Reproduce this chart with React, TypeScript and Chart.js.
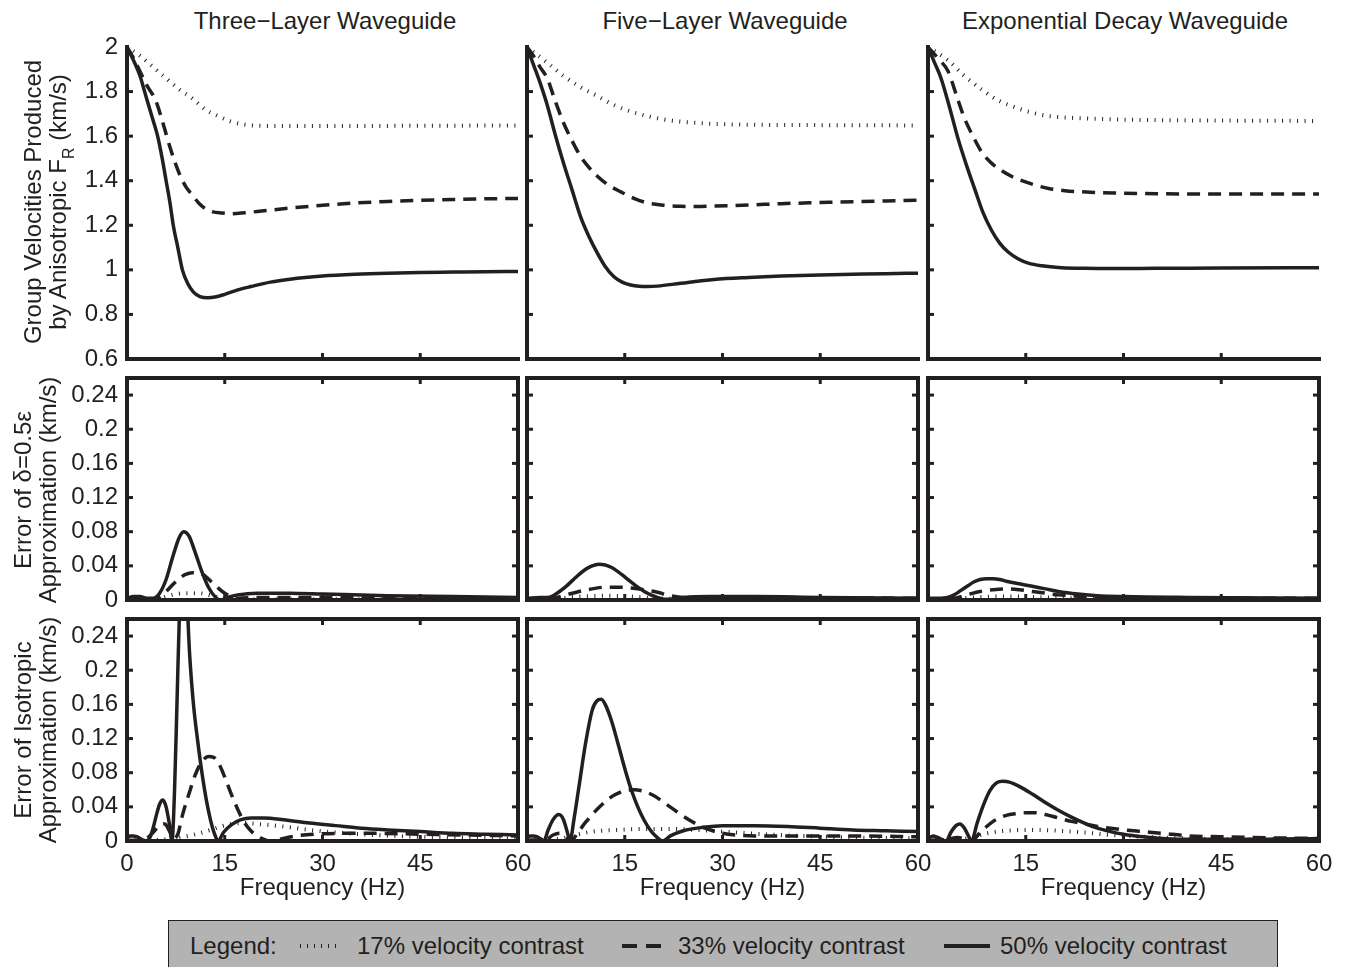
import React, { useEffect, useRef } from 'react';
import { Chart, registerables } from 'chart.js';

Chart.register(...registerables);

type Pt = [number, number];

// ---------- text ----------
const columnTitles = ['Three\u2212Layer Waveguide', 'Five\u2212Layer Waveguide', 'Exponential Decay Waveguide'];
const xAxisTitle = 'Frequency (Hz)';
const legendLabels = ['17% velocity contrast', '33% velocity contrast', '50% velocity contrast'];

// ---------- axes ----------
const freqMin = 0;
const freqMax = 60;
const freqStep = 15;
const groupMin = 0.6;
const groupMax = 2;
const groupStep = 0.2;
const errMin = 0;
const errMax = 0.26;
const errStep = 0.04;

// ---------- row 1: group velocities (km/s) ----------
const threeGroup50: Pt[] = [[0,2],[1,1.94],[2,1.87],[2.7,1.8],[3.7,1.7],[4.7,1.6],[5.4,1.5],[6.0,1.4],[6.6,1.3],[7.1,1.2],[7.8,1.1],[8.5,1.0],[9.3,0.94],[10.2,0.9],[11.2,0.88],[12.4,0.875],[13.5,0.878],[15,0.89],[17,0.91],[19,0.925],[22,0.945],[25,0.958],[30,0.972],[35,0.98],[40,0.985],[45,0.988],[50,0.99],[55,0.992],[60,0.993]];
const threeGroup33: Pt[] = [[0,2],[1,1.95],[2,1.89],[3,1.83],[4.4,1.76],[5.5,1.66],[6.6,1.55],[7.4,1.48],[8.2,1.42],[9.1,1.37],[9.9,1.34],[11,1.3],[12,1.275],[13.2,1.26],[14.5,1.255],[16,1.252],[18,1.256],[21,1.265],[25,1.277],[30,1.29],[35,1.3],[40,1.307],[45,1.312],[50,1.316],[55,1.319],[60,1.32]];
const threeGroup17: Pt[] = [[0,2],[2,1.96],[4,1.91],[6,1.86],[8,1.81],[10,1.77],[12,1.72],[14,1.69],[16,1.665],[18,1.652],[20,1.647],[25,1.645],[30,1.645],[40,1.646],[50,1.647],[60,1.648]];

const fiveGroup50: Pt[] = [[0,2],[1,1.92],[2,1.84],[3.1,1.74],[4.3,1.61],[5.6,1.48],[6.9,1.36],[8.2,1.24],[9.5,1.15],[10.8,1.075],[12,1.015],[13.3,0.97],[14.6,0.945],[15.9,0.932],[17.2,0.926],[18.5,0.925],[20,0.927],[23.6,0.94],[28.7,0.957],[34,0.966],[39,0.972],[45,0.977],[50,0.98],[55,0.983],[60,0.985]];
const fiveGroup33: Pt[] = [[0,2],[1,1.96],[2,1.91],[3.1,1.86],[4.3,1.76],[5.6,1.66],[6.9,1.58],[8.2,1.51],[9.5,1.46],[10.8,1.42],[12.5,1.38],[14.4,1.35],[16.5,1.32],[18.5,1.3],[21,1.29],[23.6,1.285],[26,1.284],[28.7,1.286],[34,1.291],[39,1.297],[45,1.302],[50,1.306],[55,1.309],[60,1.312]];
const fiveGroup17: Pt[] = [[0,2],[3.1,1.93],[5.6,1.87],[8.2,1.82],[10.8,1.78],[13.3,1.74],[16,1.71],[18.5,1.69],[21,1.675],[23.6,1.665],[28.7,1.655],[35,1.651],[40,1.65],[50,1.649],[60,1.648]];

const expGroup50: Pt[] = [[0,2],[1,1.93],[2,1.86],[3.3,1.73],[4.6,1.59],[5.9,1.47],[7.2,1.36],[8.4,1.26],[9.7,1.18],[11,1.12],[12.3,1.08],[13.8,1.05],[15.4,1.03],[17.5,1.018],[20.5,1.01],[24,1.007],[28.7,1.006],[35,1.007],[45,1.008],[60,1.01]];
const expGroup33: Pt[] = [[0,2],[1.5,1.95],[3.1,1.89],[4.4,1.78],[5.6,1.68],[6.9,1.6],[8.2,1.53],[9.7,1.48],[11.3,1.445],[12.8,1.42],[14.4,1.4],[16.5,1.38],[18.5,1.365],[21,1.355],[23.6,1.35],[28.7,1.345],[35,1.342],[45,1.34],[60,1.34]];
const expGroup17: Pt[] = [[0,2],[3.1,1.94],[5.6,1.87],[8.2,1.81],[10.8,1.76],[13.3,1.73],[16,1.705],[18.5,1.69],[21,1.684],[23.6,1.68],[28.7,1.675],[35,1.672],[45,1.67],[60,1.668]];

// ---------- row 2: error of delta = 0.5 epsilon approximation (km/s) ----------
const threeDelta50: Pt[] = [[0,0.002],[1,0.004],[2,0.004],[3,0.002],[4,0.002],[5,0.008],[6,0.024],[7,0.05],[8,0.073],[8.7,0.08],[9.5,0.075],[10.5,0.055],[11.5,0.033],[12.5,0.015],[13.5,0.004],[14.3,0.0],[15.5,0.003],[17,0.006],[20,0.008],[25,0.008],[30,0.007],[40,0.005],[50,0.004],[60,0.003]];
const threeDelta33: Pt[] = [[0,0.001],[4,0.001],[5,0.004],[6,0.01],[7,0.018],[8,0.025],[9,0.03],[10,0.032],[11,0.032],[12,0.028],[13,0.021],[14,0.014],[15,0.008],[16,0.004],[17,0.002],[20,0.003],[30,0.003],[40,0.002],[60,0.002]];
const threeDelta17: Pt[] = [[0,0.0005],[5,0.002],[7,0.006],[9,0.008],[11,0.008],[13,0.005],[15,0.002],[20,0.001],[60,0.001]];

const fiveDelta50: Pt[] = [[0,0.002],[2,0.003],[3,0.003],[4,0.005],[5,0.01],[6,0.016],[7,0.023],[8,0.03],[9,0.036],[10,0.04],[11,0.042],[12,0.041],[13,0.038],[14,0.033],[15,0.027],[16,0.021],[17,0.015],[18,0.01],[19,0.006],[20,0.003],[21,0.001],[22,0.001],[24,0.003],[28,0.004],[35,0.004],[45,0.003],[60,0.002]];
const fiveDelta33: Pt[] = [[0,0.001],[4,0.002],[6,0.006],[8,0.01],[10,0.013],[12,0.015],[14,0.015],[16,0.014],[18,0.012],[20,0.009],[22,0.005],[24,0.003],[30,0.003],[60,0.002]];
const fiveDelta17: Pt[] = [[0,0.001],[5,0.002],[8,0.004],[12,0.005],[16,0.004],[20,0.002],[25,0.001],[60,0.001]];

const expDelta50: Pt[] = [[0,0.002],[2,0.002],[3,0.003],[4,0.006],[5,0.011],[6,0.016],[7,0.021],[8,0.024],[9,0.025],[10,0.025],[11,0.024],[12,0.022],[14,0.019],[16,0.016],[18,0.013],[20,0.01],[23,0.007],[26,0.005],[30,0.004],[40,0.003],[60,0.002]];
const expDelta33: Pt[] = [[0,0.001],[4,0.002],[6,0.006],[8,0.01],[10,0.012],[12,0.013],[14,0.012],[16,0.01],[18,0.008],[20,0.006],[24,0.004],[30,0.003],[60,0.002]];
const expDelta17: Pt[] = [[0,0.001],[5,0.002],[7,0.003],[10,0.004],[14,0.004],[18,0.003],[24,0.002],[60,0.001]];

// ---------- row 3: error of isotropic approximation (km/s) ----------
const threeIso50: Pt[] = [[0,0.004],[0.5,0.006],[1,0.006],[1.5,0.005],[2,0.003],[2.5,0.001],[3,0.0],[3.5,0.004],[4,0.015],[4.5,0.03],[5,0.043],[5.5,0.048],[6,0.04],[6.5,0.02],[6.9,0.0],[7.3,0.06],[7.7,0.17],[8.1,0.28],[8.6,0.34],[9.1,0.3],[9.6,0.22],[10.2,0.16],[10.8,0.12],[11.5,0.08],[12.2,0.047],[12.8,0.025],[13.4,0.009],[14,0.0],[14.8,0.01],[16,0.019],[17.5,0.025],[19,0.027],[21,0.027],[24,0.025],[28,0.021],[32,0.018],[36,0.015],[40,0.013],[45,0.011],[50,0.009],[55,0.008],[60,0.007]];
const threeIso33: Pt[] = [[0,0.001],[2,0.001],[3,0.003],[4,0.01],[5,0.018],[5.8,0.02],[6.5,0.012],[7.2,0.003],[7.8,0.008],[8.5,0.03],[9.5,0.055],[10.5,0.078],[11.5,0.093],[12.5,0.099],[13.3,0.098],[14,0.092],[15,0.075],[16,0.055],[17,0.037],[18,0.022],[19,0.012],[20,0.006],[21,0.002],[22,0.0],[23,0.001],[24,0.003],[26,0.006],[29,0.008],[33,0.009],[38,0.009],[45,0.008],[52,0.007],[60,0.006]];
const threeIso17: Pt[] = [[0,0.0005],[4,0.001],[6,0.002],[8,0.004],[10,0.007],[12,0.011],[14,0.016],[16,0.02],[18,0.021],[20,0.02],[24,0.017],[28,0.013],[32,0.01],[38,0.007],[45,0.005],[52,0.004],[60,0.003]];

const fiveIso50: Pt[] = [[0,0.004],[0.5,0.006],[1,0.006],[1.5,0.005],[2,0.003],[2.6,0.0],[3.2,0.012],[4,0.025],[4.9,0.031],[5.6,0.025],[6.2,0.01],[6.6,0.0],[7.2,0.025],[8,0.065],[9,0.115],[10,0.153],[10.7,0.164],[11.4,0.166],[12,0.16],[13,0.14],[14,0.113],[15,0.085],[16,0.06],[17,0.04],[18,0.024],[19,0.012],[20,0.004],[20.8,0.0],[22,0.006],[24,0.012],[27,0.016],[30,0.018],[35,0.018],[40,0.017],[45,0.015],[50,0.013],[55,0.012],[60,0.011]];
const fiveIso33: Pt[] = [[0,0.001],[3,0.002],[4,0.007],[5,0.009],[6,0.005],[6.8,0.001],[8,0.012],[9,0.022],[10,0.031],[11,0.039],[12,0.046],[13,0.052],[14,0.056],[15,0.059],[16.5,0.06],[18,0.058],[19.5,0.053],[21,0.045],[22.5,0.037],[24,0.029],[25.5,0.022],[27,0.016],[28.5,0.012],[30,0.009],[32,0.007],[35,0.006],[40,0.006],[45,0.006],[50,0.006],[60,0.005]];
const fiveIso17: Pt[] = [[0,0.001],[4,0.002],[6,0.004],[8,0.008],[10,0.011],[14,0.013],[18,0.014],[22,0.014],[26,0.013],[30,0.011],[36,0.008],[42,0.006],[50,0.004],[60,0.003]];

const expIso50: Pt[] = [[0,0.003],[0.8,0.006],[1.8,0.003],[2.8,0.0],[3.5,0.01],[4.3,0.018],[4.9,0.02],[5.6,0.015],[6.2,0.006],[6.7,0.0],[7.5,0.02],[8.5,0.042],[9.5,0.059],[10.5,0.068],[11.5,0.07],[12.5,0.069],[14,0.064],[16,0.055],[18,0.045],[20,0.036],[22,0.028],[24,0.021],[26,0.015],[28,0.011],[30,0.008],[33,0.005],[36,0.003],[40,0.002],[50,0.002],[60,0.003]];
const expIso33: Pt[] = [[0,0.001],[3,0.002],[4.5,0.004],[6,0.002],[6.8,0.001],[8,0.01],[9,0.017],[10,0.023],[11,0.027],[12,0.03],[13.5,0.032],[15,0.033],[16.5,0.033],[18,0.031],[20,0.027],[22,0.023],[24,0.02],[26,0.017],[28,0.015],[30,0.013],[33,0.011],[36,0.009],[40,0.006],[45,0.005],[50,0.004],[60,0.003]];
const expIso17: Pt[] = [[0,0.001],[5,0.002],[7,0.005],[9,0.009],[12,0.012],[16,0.013],[20,0.012],[24,0.01],[28,0.007],[33,0.005],[40,0.003],[50,0.002],[60,0.002]];

// ---------- styling / layout ----------
const INK = '#231f20';
const FONT = "'Liberation Sans', Arial, Helvetica, sans-serif";
const PLOT_LEFT = [127, 527, 928];
const PLOT_W = 391;
const ROW_TOP = [47, 378, 619];
const ROW_H = [312, 222, 222];
const PAD_L = 75;
const PAD_R = 25;
const PAD_T = 25;

type LineStyle = { w: number; dash: number[] };
const style50: LineStyle = { w: 3.5, dash: [] };
const style33: LineStyle = { w: 3.5, dash: [13, 8] };
const style17: LineStyle = { w: 4, dash: [1, 6.5] };

const panelData: Pt[][][][] = [
  [
    [threeGroup50, threeGroup33, threeGroup17],
    [fiveGroup50, fiveGroup33, fiveGroup17],
    [expGroup50, expGroup33, expGroup17],
  ],
  [
    [threeDelta50, threeDelta33, threeDelta17],
    [fiveDelta50, fiveDelta33, fiveDelta17],
    [expDelta50, expDelta33, expDelta17],
  ],
  [
    [threeIso50, threeIso33, threeIso17],
    [fiveIso50, fiveIso33, fiveIso17],
    [expIso50, expIso33, expIso17],
  ],
];

const framePlugin = {
  id: 'frame',
  afterDatasetsDraw(chart: any, _args: any, opts: any) {
    const { ctx, chartArea: a } = chart;
    const x = chart.scales.x;
    const y = chart.scales.y;
    const boxed = !!opts.boxed;
    ctx.save();
    ctx.strokeStyle = INK;
    ctx.lineWidth = 3;
    ctx.lineCap = 'butt';
    ctx.setLineDash([]);
    const len = 6;
    const seg = (x1: number, y1: number, x2: number, y2: number) => {
      ctx.beginPath();
      ctx.moveTo(x1, y1);
      ctx.lineTo(x2, y2);
      ctx.stroke();
    };
    x.ticks.forEach((t: any) => {
      if (t.value <= x.min || t.value >= x.max) return;
      const px = x.getPixelForValue(t.value);
      seg(px, a.bottom, px, a.bottom - len);
      if (boxed) seg(px, a.top, px, a.top + len);
    });
    y.ticks.forEach((t: any) => {
      if (t.value <= y.min + 1e-9 || t.value >= y.max - 1e-9) return;
      const py = y.getPixelForValue(t.value);
      seg(a.left, py, a.left + len, py);
      if (boxed) seg(a.right, py, a.right - len, py);
    });
    ctx.lineWidth = 4;
    ctx.lineJoin = 'miter';
    ctx.lineCap = 'square';
    ctx.beginPath();
    if (boxed) {
      ctx.rect(a.left, a.top, a.right - a.left, a.bottom - a.top);
    } else {
      ctx.moveTo(a.left, a.top);
      ctx.lineTo(a.left, a.bottom);
      ctx.lineTo(a.right, a.bottom);
    }
    ctx.stroke();
    ctx.restore();
  },
};

function fmt(v: number): string {
  return String(Number(v.toFixed(2)));
}

function Panel({ row, col }: { row: number; col: number }) {
  const ref = useRef<HTMLCanvasElement>(null);
  const padB = row === 2 ? 62 : 25;
  const w = PAD_L + PLOT_W + PAD_R;
  const h = PAD_T + ROW_H[row] + padB;
  const left = PLOT_LEFT[col] - PAD_L;
  const top = ROW_TOP[row] - PAD_T;

  useEffect(() => {
    const series = panelData[row][col];
    const styles = [style50, style33, style17];
    const datasets = series.map((pts, i) => ({
      label: legendLabels[2 - i],
      data: pts.map(([fx, fy]) => ({ x: fx, y: fy })),
      borderColor: INK,
      backgroundColor: INK,
      borderWidth: styles[i].w,
      borderDash: styles[i].dash,
      borderCapStyle: 'butt',
      borderJoinStyle: 'round',
      pointRadius: 0,
      fill: false,
      tension: 0.4,
      cubicInterpolationMode: 'monotone',
    }));
    const isGroup = row === 0;
    const chart = new Chart(ref.current as HTMLCanvasElement, {
      type: 'line',
      data: { datasets } as any,
      options: {
        animation: false,
        responsive: false,
        maintainAspectRatio: false,
        events: [],
        layout: { padding: { top: PAD_T, right: PAD_R, left: 0, bottom: 0 } },
        plugins: {
          legend: { display: false },
          tooltip: { enabled: false },
          title: { display: false },
          frame: { boxed: row !== 0 },
        } as any,
        scales: {
          x: {
            type: 'linear',
            min: freqMin,
            max: freqMax,
            grid: { display: false, drawTicks: false, tickLength: 0 },
            border: { display: false },
            ticks: {
              stepSize: freqStep,
              display: row === 2,
              autoSkip: false,
              maxRotation: 0,
              padding: 9,
              color: INK,
              font: { family: FONT, size: 24 },
              callback: (v: any) => (col > 0 && Number(v) === 0 ? '' : fmt(Number(v))),
            },
            title: {
              display: row === 2,
              text: xAxisTitle,
              color: INK,
              font: { family: FONT, size: 24 },
              padding: { top: 0, bottom: 0 },
            },
            afterFit: (axis: any) => {
              axis.height = padB;
            },
          },
          y: {
            type: 'linear',
            min: isGroup ? groupMin : errMin,
            max: isGroup ? groupMax : errMax,
            grid: { display: false, drawTicks: false, tickLength: 0 },
            border: { display: false },
            ticks: {
              stepSize: isGroup ? groupStep : errStep,
              includeBounds: false,
              display: col === 0,
              autoSkip: false,
              padding: 9,
              color: INK,
              font: { family: FONT, size: 24 },
              callback: (v: any) => fmt(Number(v)),
            },
            afterFit: (axis: any) => {
              axis.width = PAD_L;
            },
          },
        },
      } as any,
      plugins: [framePlugin as any],
    });
    return () => chart.destroy();
  }, [row, col, padB]);

  return (
    <canvas
      ref={ref}
      width={w}
      height={h}
      style={{ position: 'absolute', left, top, width: w, height: h }}
    />
  );
}

function VerticalTitle({ cx, cy, children }: { cx: number; cy: number; children: React.ReactNode }) {
  return (
    <div
      style={{
        position: 'absolute',
        left: cx,
        top: cy,
        transform: 'translate(-50%, -50%) rotate(-90deg)',
        whiteSpace: 'nowrap',
        textAlign: 'center',
        fontFamily: FONT,
        fontSize: 24,
        lineHeight: '25px',
        color: INK,
      }}
    >
      {children}
    </div>
  );
}

function LegendSample({ x1, x2, y, dash, width }: { x1: number; x2: number; y: number; dash?: string; width: number }) {
  return (
    <svg
      style={{ position: 'absolute', left: x1, top: y - 5, overflow: 'visible' }}
      width={x2 - x1}
      height={10}
    >
      <line x1={0} y1={5} x2={x2 - x1} y2={5} stroke={INK} strokeWidth={width} strokeDasharray={dash} />
    </svg>
  );
}

export default function App() {
  const colCenters = [325, 725, 1125];
  const legendY = 946;
  const textStyle: React.CSSProperties = {
    position: 'absolute',
    fontFamily: FONT,
    fontSize: 24,
    color: INK,
    whiteSpace: 'nowrap',
    transform: 'translateY(-50%)',
    lineHeight: '28px',
  };
  return (
    <div
      style={{
        position: 'absolute',
        left: 0,
        top: 0,
        width: 1346,
        height: 967,
        overflow: 'hidden',
        background: '#ffffff',
      }}
    >
      {columnTitles.map((t, i) => (
        <div
          key={t}
          style={{
            position: 'absolute',
            left: colCenters[i],
            top: 21,
            transform: 'translate(-50%, -50%)',
            whiteSpace: 'nowrap',
            fontFamily: FONT,
            fontSize: 24,
            color: INK,
            lineHeight: '28px',
          }}
        >
          {t}
        </div>
      ))}

      {[0, 1, 2].map((r) => [0, 1, 2].map((c) => <Panel key={`${r}-${c}`} row={r} col={c} />))}

      <VerticalTitle cx={45} cy={202}>
        Group Velocities Produced
        <br />
        by Anisotropic F
        <span style={{ fontSize: 16, position: 'relative', top: 8, lineHeight: 0 }}>R</span> (km/s)
      </VerticalTitle>
      <VerticalTitle cx={35} cy={490}>
        Error of δ=0.5ε
        <br />
        Approximation (km/s)
      </VerticalTitle>
      <VerticalTitle cx={35} cy={730}>
        Error of Isotropic
        <br />
        Approximation (km/s)
      </VerticalTitle>

      <div
        style={{
          position: 'absolute',
          left: 168,
          top: 920,
          width: 1110,
          height: 70,
          background: '#b3b3b3',
          border: `1.5px solid ${INK}`,
          boxSizing: 'border-box',
        }}
      />
      <div style={{ ...textStyle, left: 190, top: legendY }}>Legend:</div>
      <LegendSample x1={300} x2={342} y={legendY} dash="1 6" width={4} />
      <div style={{ ...textStyle, left: 357, top: legendY }}>{legendLabels[0]}</div>
      <LegendSample x1={622} x2={662} y={legendY} dash="15 9" width={4} />
      <div style={{ ...textStyle, left: 678, top: legendY }}>{legendLabels[1]}</div>
      <LegendSample x1={944} x2={990} y={legendY} width={4} />
      <div style={{ ...textStyle, left: 1000, top: legendY }}>{legendLabels[2]}</div>
    </div>
  );
}
